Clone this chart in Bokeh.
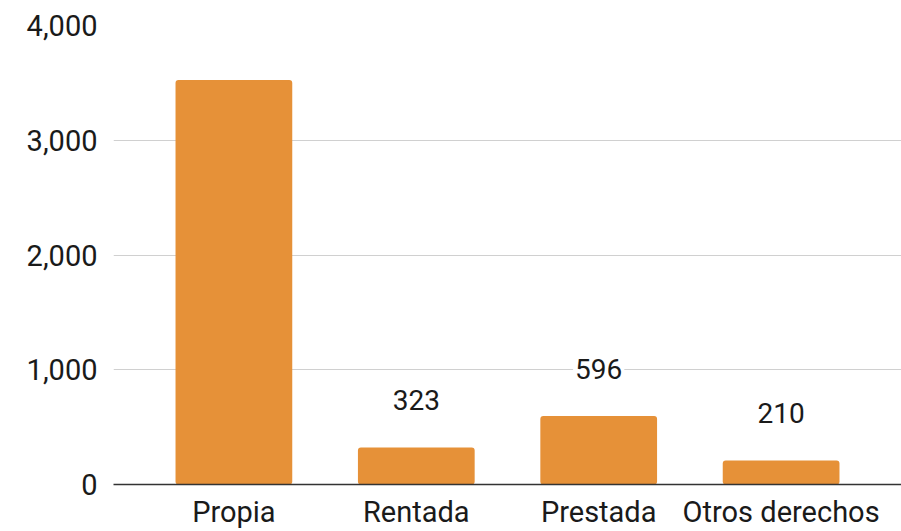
from bokeh.plotting import figure
from bokeh.models import ColumnDataSource, FixedTicker, NumeralTickFormatter, FactorRange, Range1d
from bokeh.core.properties import value
from bokeh.embed import file_html
from bokeh.resources import INLINE

categories = ["Propia", "Rentada", "Prestada", "Otros derechos"]
values = [3524, 323, 596, 210]
value_labels = ["", "323", "596", "210"]
y_ticks = [0, 1000, 2000, 3000, 4000]

FONT = "Roboto"
BAR = "#E69138"

src = ColumnDataSource(dict(cat=categories, val=values, lab=value_labels))

p = figure(width=901, height=531, x_range=FactorRange(*categories, range_padding=0.08),
           y_range=Range1d(0, 4000), output_backend="svg", toolbar_location=None,
           min_border_left=113, min_border_right=0, min_border_top=25, min_border_bottom=45)
p.outline_line_color = None

p.vbar(x="cat", top="val", width=0.64, source=src, color=BAR, line_color=None,
       border_radius=3)
p.text(x="cat", y="val", text="lab", source=src, y_offset=-47, text_align="center",
       text_baseline="middle", text_font=value(FONT), text_font_size="28px", text_color="#1a1a1a",
       background_fill_color="white", padding=2)

p.yaxis.ticker = FixedTicker(ticks=y_ticks)
p.yaxis.formatter = NumeralTickFormatter(format="0,0")
p.yaxis.axis_line_color = None
p.yaxis.major_tick_line_color = None
p.yaxis.minor_tick_line_color = None
p.yaxis.major_label_standoff = 10
p.yaxis.major_label_text_font = FONT
p.yaxis.major_label_text_font_size = "29px"
p.yaxis.major_label_text_color = "#1a1a1a"

p.xaxis.axis_line_color = "#333333"
p.xaxis.axis_line_width = 1.5
p.xaxis.major_tick_line_color = None
p.xaxis.minor_tick_line_color = None
p.xaxis.major_label_standoff = 4
p.xaxis.major_label_text_font = FONT
p.xaxis.major_label_text_font_size = "29px"
p.xaxis.major_label_text_color = "#1a1a1a"

p.xgrid.grid_line_color = None
p.ygrid.grid_line_color = "#d0d0d0"
p.ygrid.ticker = FixedTicker(ticks=y_ticks)

open("out.html", "w").write(file_html(p, INLINE))
